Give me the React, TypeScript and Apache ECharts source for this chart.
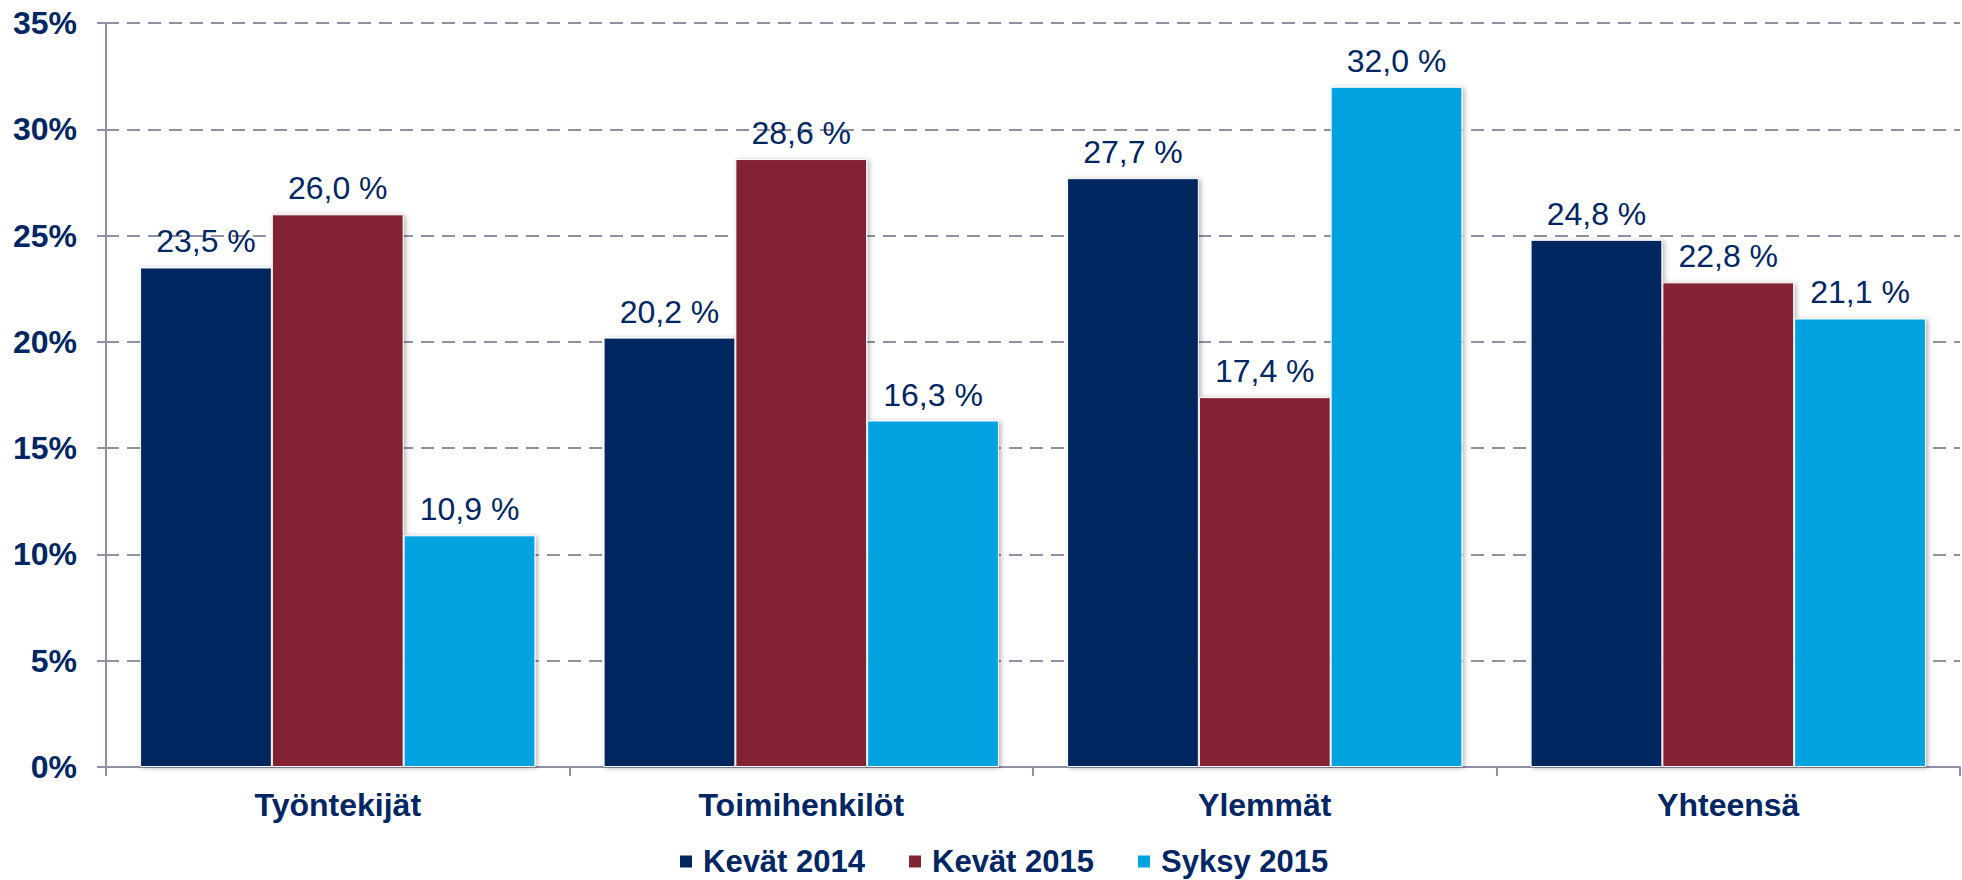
import React, { useEffect, useRef } from "react";
import * as echarts from "echarts";

const categories = ["Työntekijät", "Toimihenkilöt", "Ylemmät", "Yhteensä"];
const seriesNames = ["Kevät 2014", "Kevät 2015", "Syksy 2015"];
const kevat2014 = [23.5, 20.2, 27.7, 24.8];
const kevat2015 = [26.0, 28.6, 17.4, 22.8];
const syksy2015 = [10.9, 16.3, 32.0, 21.1];
const seriesColors = ["#00265F", "#832435", "#00A3E0"];

const FONT = "'Liberation Sans', Arial, Helvetica, sans-serif";
const TEXT = "#002663";
const AXIS = "#8E91A4";

export default function App() {
  const ref = useRef<HTMLDivElement>(null);
  useEffect(() => {
    if (!ref.current) return;
    const chart = echarts.init(ref.current, undefined, { renderer: "svg" });
    const values = [kevat2014, kevat2015, syksy2015];
    chart.setOption({
      animation: false,
      backgroundColor: "#ffffff",
      textStyle: { fontFamily: FONT },
      grid: { left: 106, right: 2, top: 23, bottom: 113, containLabel: false },
      legend: {
        data: seriesNames,
        left: 678,
        top: 846,
        padding: 0,
        icon: "rect",
        itemWidth: 14,
        itemHeight: 14,
        itemGap: 42,
        textStyle: {
          fontFamily: FONT,
          fontSize: 31,
          fontWeight: "bold",
          color: TEXT,
          padding: [0, 0, 0, 5],
        },
      },
      xAxis: {
        type: "category",
        data: categories,
        axisLine: { show: true, lineStyle: { color: AXIS, width: 2 } },
        axisTick: { show: true, length: 9, lineStyle: { color: AXIS, width: 2 } },
        axisLabel: {
          fontFamily: FONT,
          fontSize: 32,
          fontWeight: "bold",
          color: TEXT,
          margin: 22,
        },
      },
      yAxis: {
        type: "value",
        min: 0,
        max: 35,
        interval: 5,
        axisLine: { show: true, lineStyle: { color: AXIS, width: 2 } },
        axisTick: { show: true, length: 9, lineStyle: { color: AXIS, width: 2 } },
        axisLabel: {
          formatter: "{value}%",
          fontFamily: FONT,
          fontSize: 32,
          fontWeight: "bold",
          color: TEXT,
          margin: 29,
        },
        splitLine: {
          show: true,
          lineStyle: { color: AXIS, width: 2, type: [13, 8] },
        },
      },
      series: seriesNames.map((name, i) => ({
        name,
        type: "bar",
        data: values[i],
        barGap: "0%",
        barCategoryGap: "14.7%",
        itemStyle: {
          color: seriesColors[i],
          borderColor: "#ffffff",
          borderWidth: 1,
          shadowColor: "rgba(0,0,0,0.3)",
          shadowBlur: 5,
          shadowOffsetX: 2,
          shadowOffsetY: 1,
        },
        label: {
          show: true,
          position: "top",
          distance: 10,
          fontFamily: FONT,
          fontSize: 32,
          color: TEXT,
          formatter: (p: any) => p.value.toFixed(1).replace(".", ",") + " %",
        },
      })),
    });
    return () => chart.dispose();
  }, []);
  return (
    <div
      ref={ref}
      style={{ position: "fixed", left: 0, top: 0, width: 1962, height: 880 }}
    />
  );
}
